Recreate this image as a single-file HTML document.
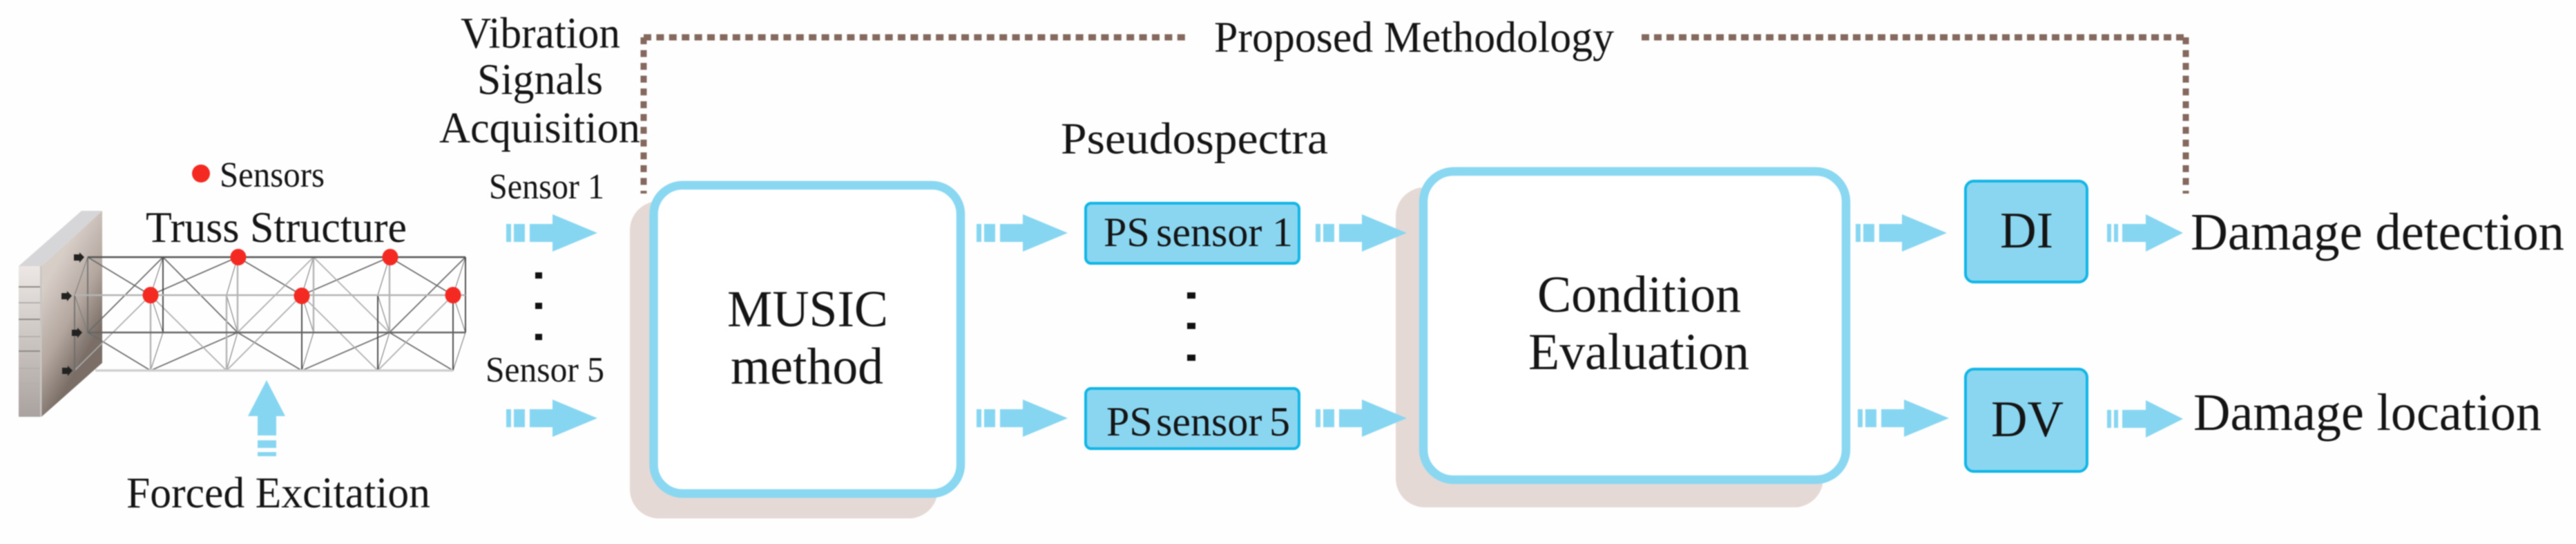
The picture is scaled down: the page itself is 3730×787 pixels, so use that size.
<!DOCTYPE html>
<html lang="en">
<head>
<meta charset="utf-8">
<title>Proposed Methodology</title>
<style>
html,body{margin:0;padding:0;background:#fff;width:3730px;height:787px;overflow:hidden}
svg{display:block;filter:blur(0.9px)}
text{font-family:"Liberation Serif","Times New Roman",serif;fill:#151515}
</style>
</head>
<body>
<svg xmlns="http://www.w3.org/2000/svg" width="3730" height="787" viewBox="0 0 3730 787">
<defs>
<linearGradient id="side" gradientUnits="userSpaceOnUse" x1="60" y1="420" x2="148" y2="470">
<stop offset="0" stop-color="#d8cec8"/><stop offset="0.55" stop-color="#b3a79f"/><stop offset="1" stop-color="#7a6e66"/>
</linearGradient>
<linearGradient id="front" x1="0" x2="0" y1="0" y2="1">
<stop offset="0" stop-color="#ece7e4"/><stop offset="1" stop-color="#a9a29e"/>
</linearGradient>
<g id="arr">
<rect x="0" y="-13" width="7" height="26" fill="#87d6f1"/>
<rect x="11" y="-13" width="16" height="26" fill="#87d6f1"/>
<path d="M34 -13H67V-27L132 0L67 27V13H34Z" fill="#87d6f1"/>
</g>
<g id="arrs">
<rect x="0" y="-13" width="6" height="26" fill="#87d6f1"/>
<rect x="10" y="-13" width="6" height="26" fill="#87d6f1"/>
<path d="M22 -13H56V-27L110 0L56 27V13H22Z" fill="#87d6f1"/>
</g>
</defs>
<rect width="3730" height="787" fill="#fefefe"/>

<!-- wall -->
<polygon points="27,385 118,305 148,305 60,385" fill="#d6d6d8"/>
<polygon points="27,385 60,385 60,603 27,603" fill="url(#front)"/>
<polygon points="60,385 148,305 148,525 60,603" fill="url(#side)"/>
<path d="M27 415H60M27 462H60M27 508H60" stroke="#8e8a87" stroke-width="2" fill="none"/>
<path d="M27 438H60M27 487H60M27 533H60M27 555H60" stroke="#b5b0ad" stroke-width="2" fill="none"/>
<rect x="58" y="385" width="2.5" height="218" fill="#c9c5c2"/>

<!-- truss -->
<path d="M127 372L218 427M236 372L127 481M127 481L218 536M236 372L344 481M218 536L344 481M344 481L437 536M437 536L564 481M564 481L656 536M344 372L437 427M564 372L656 427M218 427L344 372M437 427L564 372M564 481L674 372" stroke="#6a6a6a" stroke-width="1.7" fill="none"/>
<path d="M218 427L108 536M218 427L328 536M328 536L437 427M344 481L454 372M454 372L564 481M437 427L547 536M547 536L656 427" stroke="#adadad" stroke-width="1.7" fill="none"/>
<path d="M127 372L108 427L127 481L108 536M236 372L218 427L236 481L218 536M344 372L328 427L344 481L328 536M454 372L437 427L454 481L437 536M564 372L547 427L564 481L547 536M674 372L656 427L674 481L656 536" stroke="#7c7c7c" stroke-width="1.1" fill="none"/>
<path d="M236 372V481M437 427V536M547 427V536M674 372V481M656 427V536" stroke="#3f3f3f" stroke-width="1.8" fill="none"/>
<path d="M108 427V536M127 372V481" stroke="#6a6a6a" stroke-width="1.6" fill="none"/>
<path d="M218 427V536M344 372V481M328 427V536M454 372V481M564 372V481" stroke="#b2b2b2" stroke-width="2.4" fill="none"/>
<path d="M108 427H674" stroke="#b4b4b4" stroke-width="2.6" fill="none"/>
<path d="M138 536H656" stroke="#d0d0d0" stroke-width="3.5" fill="none"/>
<path d="M127 372H674" stroke="#555" stroke-width="2.6" fill="none"/>
<path d="M127 481H674" stroke="#666" stroke-width="2.6" fill="none"/>

<!-- anchors -->
<g fill="#222">
<path d="M107 368H115V365L122 372L115 380V377H107Z"/>
<path d="M89 424H97V421L104 428L97 436V433H89Z"/>
<path d="M104 477H112V474L119 481L112 489V486H104Z"/>
<path d="M90 532H98V529L105 536L98 544V541H90Z"/>
</g>

<!-- sensor dots -->
<g fill="#f42a22">
<ellipse cx="291" cy="251" rx="13" ry="13"/>
<ellipse cx="218" cy="427" rx="11.5" ry="12"/>
<ellipse cx="345" cy="372" rx="11.5" ry="12"/>
<ellipse cx="437" cy="428" rx="11.5" ry="12"/>
<ellipse cx="565" cy="372" rx="11.5" ry="12"/>
<ellipse cx="656" cy="427" rx="11.5" ry="12"/>
</g>

<!-- dotted frame -->
<path d="M932 54V280" stroke="#85695f" stroke-width="9" stroke-dasharray="10 8.5" fill="none"/>
<path d="M932 54H1719" stroke="#85695f" stroke-width="9" stroke-dasharray="11 7.4" fill="none"/>
<path d="M2377 54H3168" stroke="#85695f" stroke-width="9" stroke-dasharray="11 7" fill="none"/>
<path d="M3165 54V280" stroke="#85695f" stroke-width="9" stroke-dasharray="10 8.5" fill="none"/>

<!-- shadows -->
<rect x="912" y="291" width="446" height="459" rx="42" fill="#e5d9d6"/>
<rect x="2021" y="271" width="619" height="463" rx="42" fill="#e5d9d6"/>

<!-- main boxes -->
<rect x="946.5" y="268" width="444.5" height="446" rx="42" fill="#fff" stroke="#8ad7f1" stroke-width="12.5"/>
<rect x="2061" y="248" width="612" height="446" rx="44" fill="#fff" stroke="#8ad7f1" stroke-width="12.5"/>

<!-- small boxes -->
<rect x="1572" y="294" width="309" height="87" rx="8" fill="#8ad6f1" stroke="#12b6e6" stroke-width="4"/>
<rect x="1572" y="562" width="309" height="87" rx="8" fill="#8ad6f1" stroke="#12b6e6" stroke-width="4"/>
<rect x="2846" y="262" width="176" height="146" rx="12" fill="#8ad6f1" stroke="#12b6e6" stroke-width="4"/>
<rect x="2846" y="534" width="176" height="148" rx="12" fill="#8ad6f1" stroke="#12b6e6" stroke-width="4"/>

<!-- arrows -->
<use href="#arr" x="733" y="337"/>
<use href="#arr" x="733" y="605"/>
<use href="#arr" x="1414" y="337"/>
<use href="#arr" x="1414" y="605"/>
<use href="#arr" x="1905" y="337"/>
<use href="#arr" x="1905" y="605"/>
<use href="#arr" x="2687" y="337"/>
<use href="#arr" x="2690" y="605"/>
<use href="#arrs" x="3051" y="337"/>
<use href="#arrs" x="3051" y="606"/>

<!-- up arrow -->
<path d="M386 550L413 602H400V630H373V602H359Z" fill="#87d6f1"/>
<rect x="373" y="637" width="27" height="11" fill="#87d6f1"/>
<rect x="373" y="654" width="27" height="6" fill="#87d6f1"/>

<!-- ellipsis dots -->
<g fill="#111">
<rect x="775" y="394" width="10" height="9"/>
<rect x="775" y="438" width="10" height="9"/>
<rect x="775" y="483" width="10" height="9"/>
<rect x="1719" y="423" width="12" height="9"/>
<rect x="1719" y="467" width="12" height="9"/>
<rect x="1719" y="513" width="12" height="9"/>
</g>

<!-- text -->
<text x="667" y="69" font-size="63" textLength="231" lengthAdjust="spacingAndGlyphs">Vibration</text>
<text x="691" y="136" font-size="63" textLength="182" lengthAdjust="spacingAndGlyphs">Signals</text>
<text x="636" y="206" font-size="63" textLength="291" lengthAdjust="spacingAndGlyphs">Acquisition</text>
<text x="318" y="270" font-size="52" textLength="152" lengthAdjust="spacingAndGlyphs">Sensors</text>
<text x="211" y="350" font-size="63" textLength="378" lengthAdjust="spacingAndGlyphs">Truss Structure</text>
<text x="708" y="287" font-size="52" textLength="167" lengthAdjust="spacingAndGlyphs">Sensor 1</text>
<text x="703" y="552" font-size="52" textLength="172" lengthAdjust="spacingAndGlyphs">Sensor 5</text>
<text x="183" y="734" font-size="63" textLength="440" lengthAdjust="spacingAndGlyphs">Forced Excitation</text>
<text x="1758" y="75" font-size="63" textLength="579" lengthAdjust="spacingAndGlyphs">Proposed Methodology</text>
<text x="1536" y="222" font-size="65" textLength="387" lengthAdjust="spacingAndGlyphs">Pseudospectra</text>
<text x="1053" y="472" font-size="75" textLength="233" lengthAdjust="spacingAndGlyphs">MUSIC</text>
<text x="1058" y="555" font-size="75" textLength="221" lengthAdjust="spacingAndGlyphs">method</text>
<text y="356" font-size="60"><tspan x="1598">PS</tspan> <tspan x="1674">sensor</tspan> <tspan x="1842">1</tspan></text>
<text y="630" font-size="60"><tspan x="1602">PS</tspan> <tspan x="1674">sensor</tspan> <tspan x="1838">5</tspan></text>
<text x="2226" y="451" font-size="75" textLength="295" lengthAdjust="spacingAndGlyphs">Condition</text>
<text x="2213" y="534" font-size="75" textLength="320" lengthAdjust="spacingAndGlyphs">Evaluation</text>
<text x="2896" y="358" font-size="74" textLength="77" lengthAdjust="spacingAndGlyphs">DI</text>
<text x="2883" y="631" font-size="74" textLength="105" lengthAdjust="spacingAndGlyphs">DV</text>
<text x="3172" y="361" font-size="76" textLength="541" lengthAdjust="spacingAndGlyphs">Damage detection</text>
<text x="3176" y="622" font-size="76" textLength="504" lengthAdjust="spacingAndGlyphs">Damage location</text>
</svg>
</body>
</html>
